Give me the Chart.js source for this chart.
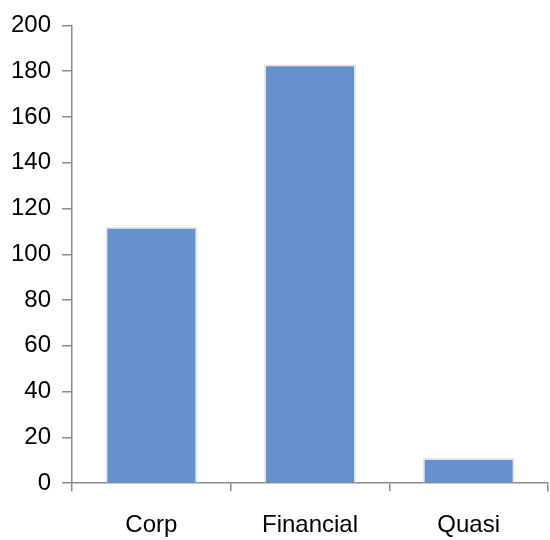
<!DOCTYPE html>
<html>
<head>
<meta charset="utf-8">
<script src="https://cdn.jsdelivr.net/npm/chart.js@4"></script>
<style>
  body { margin: 0; background: #fff; }
  #wrap { width: 550px; height: 540px; }
</style>
</head>
<body>
<div id="wrap"><canvas id="bar-chart" width="550" height="540"></canvas></div>
<script>
// values
var categories = ['Corp', 'Financial', 'Quasi'];
var amounts = [112, 183, 11];
var yTicks = [0, 20, 40, 60, 80, 100, 120, 140, 160, 180, 200];

var axisGrey = '#8c8c8c';

new Chart(document.getElementById('bar-chart'), {
  type: 'bar',
  data: {
    labels: categories,
    datasets: [
      {
        data: amounts,
        backgroundColor: '#6591cc',
        borderColor: '#e6e6e6',
        borderWidth: 2,
        categoryPercentage: 0.58,
        barPercentage: 1
      }
    ]
  },
  options: {
    responsive: false,
    animation: false,
    layout: { padding: { top: 15, right: 2, left: 0, bottom: -20 } },
    plugins: {
      legend: { display: false },
      tooltip: { enabled: false }
    },
    scales: {
      x: {
        grid: {
          display: true,
          drawOnChartArea: false,
          drawTicks: true,
          tickLength: 8,
          color: axisGrey,
          lineWidth: 1.5
        },
        border: { display: true, color: axisGrey, width: 1.5 },
        ticks: {
          color: '#000',
          padding: 20,
          font: { family: 'Liberation Sans', size: 24 }
        }
      },
      y: {
        min: 0,
        max: 200,
        afterBuildTicks: function (axis) {
          axis.ticks = yTicks.map(function (v) { return { value: v }; });
        },
        grid: {
          display: true,
          drawOnChartArea: false,
          drawTicks: true,
          tickLength: 10,
          color: axisGrey,
          lineWidth: 1.5
        },
        border: { display: true, color: axisGrey, width: 1.5 },
        ticks: {
          color: '#000',
          padding: 11,
          font: { family: 'Liberation Sans', size: 24 }
        }
      }
    }
  }
});
</script>
</body>
</html>
